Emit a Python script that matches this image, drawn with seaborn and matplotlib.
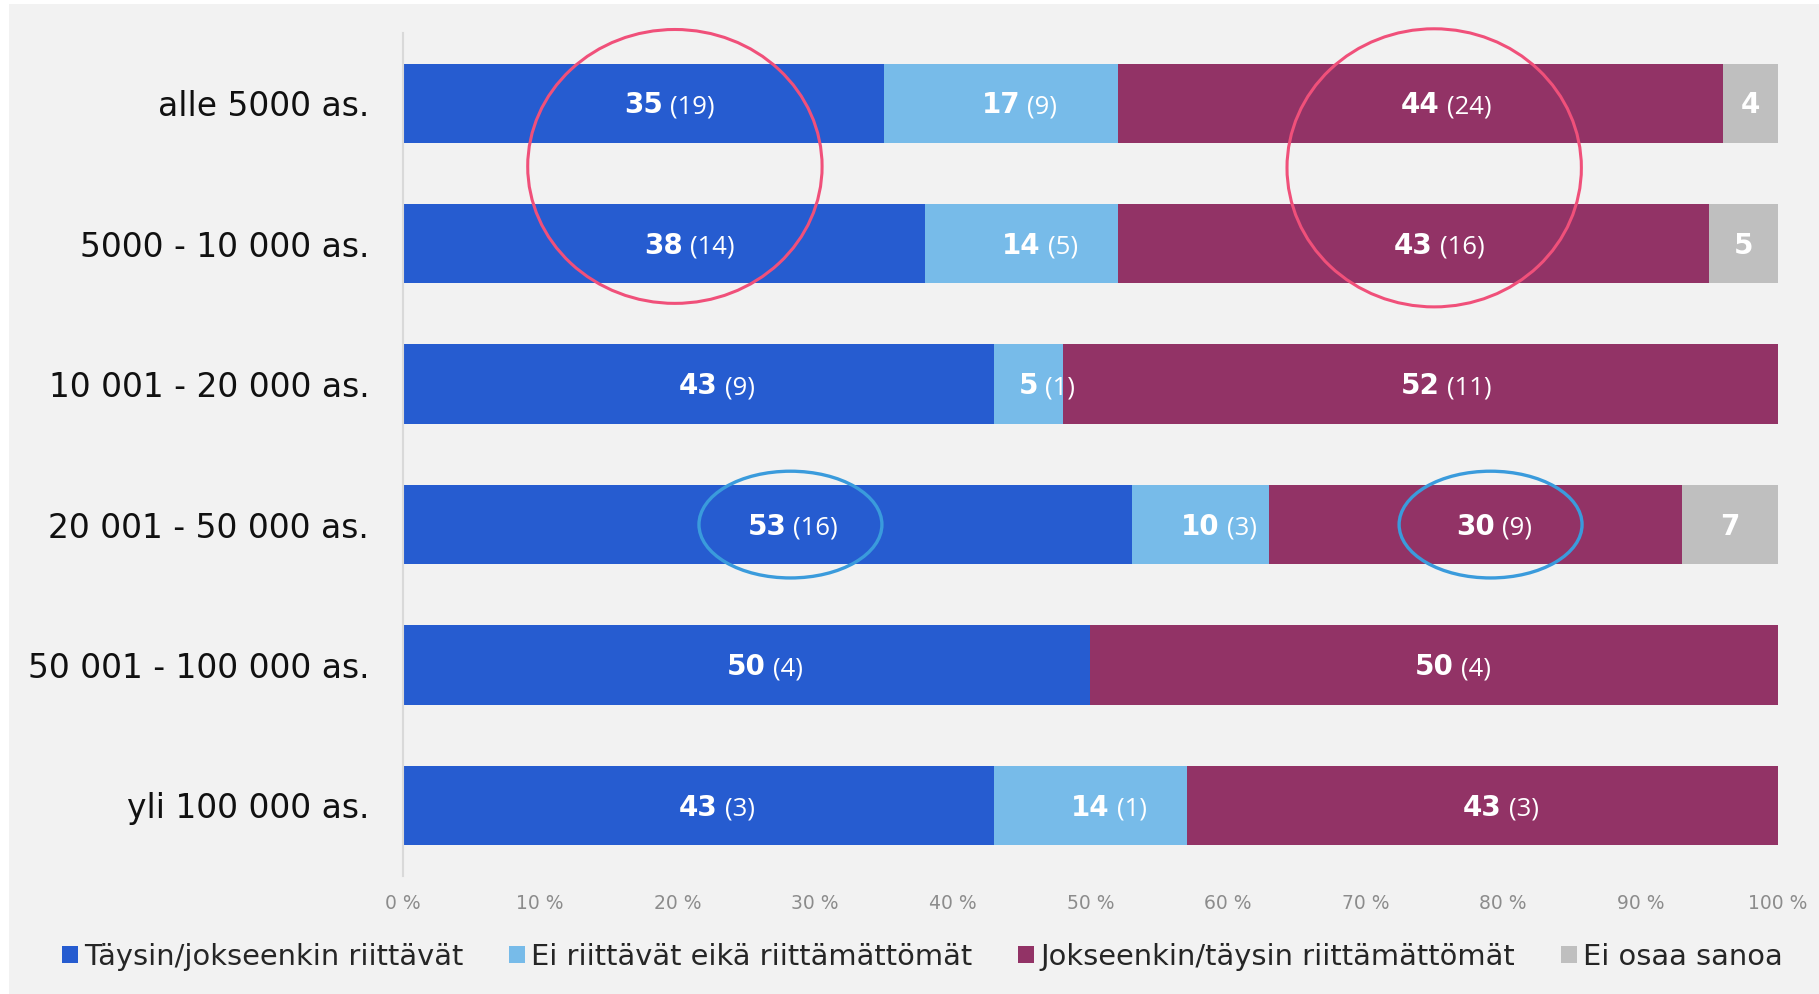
import numpy as np
import pandas as pd
import matplotlib
matplotlib.use("Agg")
import matplotlib.pyplot as plt
from matplotlib.patches import Rectangle, Ellipse, Patch
import seaborn as sns

# --- data ---
categories = ["alle 5000 as.", "5000 - 10 000 as.", "10 001 - 20 000 as.",
              "20 001 - 50 000 as.", "50 001 - 100 000 as.", "yli 100 000 as."]
series = ["Täysin/jokseenkin riittävät", "Ei riittävät eikä riittämättömät",
          "Jokseenkin/täysin riittämättömät", "Ei osaa sanoa"]
pct_riittavat = [35, 38, 43, 53, 50, 43]
pct_neutraali = [17, 14, 5, 10, 0, 14]
pct_riittamattomat = [44, 43, 52, 30, 50, 43]
pct_eos = [4, 5, 0, 7, 0, 0]
n_riittavat = [19, 14, 9, 16, 4, 3]
n_neutraali = [9, 5, 1, 3, 0, 1]
n_riittamattomat = [24, 16, 11, 9, 4, 3]
x_ticks = [0, 10, 20, 30, 40, 50, 60, 70, 80, 90, 100]

colors = ["#265CD0", "#77BBE9", "#923366", "#BFBFBF"]

# highlight ellipses (annotations): x centre %, y centre row, width %, height rows
pink_ellipses = [(19.8, 0.45, 21.4, 1.95), (75.0, 0.46, 21.4, 1.98)]
blue_ellipses = [(28.2, 3.0, 13.3, 0.76), (79.1, 3.0, 13.3, 0.76)]

pct = np.array([pct_riittavat, pct_neutraali, pct_riittamattomat, pct_eos], dtype=float)
counts = [n_riittavat, n_neutraali, n_riittamattomat, None]
cum = np.cumsum(pct, axis=0)

df = pd.DataFrame({"kunta": categories})
for i, s in enumerate(series):
    df[s] = cum[i]

sns.set_style("white")
plt.rcParams["font.family"] = ["DejaVu Sans"]

fig = plt.figure(figsize=(18.19, 9.94), dpi=100)
fig.patch.set_facecolor("white")
fig.patches.append(Rectangle((9 / 1819, 0), 1 - 9 / 1819, 1 - 4 / 994,
                             transform=fig.transFigure, facecolor="#F2F2F2",
                             edgecolor="none", zorder=-10))
ax = fig.add_axes([0.2213, 0.119, 0.9775 - 0.2213, 0.9668 - 0.119])
ax.patch.set_alpha(0)

# stacked bars: overlay cumulative totals, largest first
for i in reversed(range(len(series))):
    sns.barplot(data=df, y="kunta", x=series[i], orient="h", color=colors[i],
                width=0.565, linewidth=0, saturation=1, ax=ax)

ax.set_xlim(0, 100)
ax.set_ylim(5.5, -0.5)
ax.set_xlabel("")
ax.set_ylabel("")

# segment labels: bold value centred in segment, count to its right
NUM_SIZE = 20
base_off = -0.729 * NUM_SIZE / 2
for i in range(len(series)):
    for r in range(len(categories)):
        v = pct[i, r]
        if v <= 0:
            continue
        xc = cum[i, r] - v / 2
        t = ax.annotate(f"{int(v)}", xy=(xc, r), xytext=(0, base_off),
                        textcoords="offset points", ha="center", va="baseline",
                        color="white", fontsize=NUM_SIZE, fontweight="bold")
        if counts[i] is not None:
            ax.annotate(f"({counts[i][r]})", xy=(1, r), xycoords=(t, "data"),
                        xytext=(5, base_off), textcoords="offset points",
                        ha="left", va="baseline", color="white", fontsize=18.5,
                        family="Open Sans")

for (x, y, w, h) in pink_ellipses:
    ax.add_patch(Ellipse((x, y), w, h, fill=False, edgecolor="#F0507A",
                         linewidth=2.2, zorder=5, clip_on=False))
for (x, y, w, h) in blue_ellipses:
    ax.add_patch(Ellipse((x, y), w, h, fill=False, edgecolor="#3A9BDC",
                         linewidth=2.4, zorder=5, clip_on=False))

# axes styling
for side in ["top", "right", "bottom"]:
    ax.spines[side].set_visible(False)
ax.spines["left"].set_color("#D9D9D9")
ax.spines["left"].set_linewidth(1.5)

ax.set_xticks(x_ticks)
ax.set_xticklabels([f"{t} %" for t in x_ticks])
ax.tick_params(axis="x", length=0, pad=13, labelsize=13.5, labelcolor="#8C8C8C")
ax.tick_params(axis="y", which="major", length=0, pad=24, labelsize=23.7,
               labelcolor="#111111")
ax.set_yticks(np.arange(-0.5, 6, 1), minor=True)
ax.tick_params(axis="y", which="minor", length=8, width=1.5, color="#D9D9D9")

handles = [Patch(facecolor=c, edgecolor="none") for c in colors]
fig.legend(handles, series, loc="center", bbox_to_anchor=(0.507, 1 - 957 / 994),
           ncol=4, frameon=False, fontsize=20.8, handlelength=0.55,
           handleheight=0.55, handletextpad=0.2, columnspacing=1.6)

fig.savefig("out.png", dpi=100, facecolor=fig.get_facecolor())
